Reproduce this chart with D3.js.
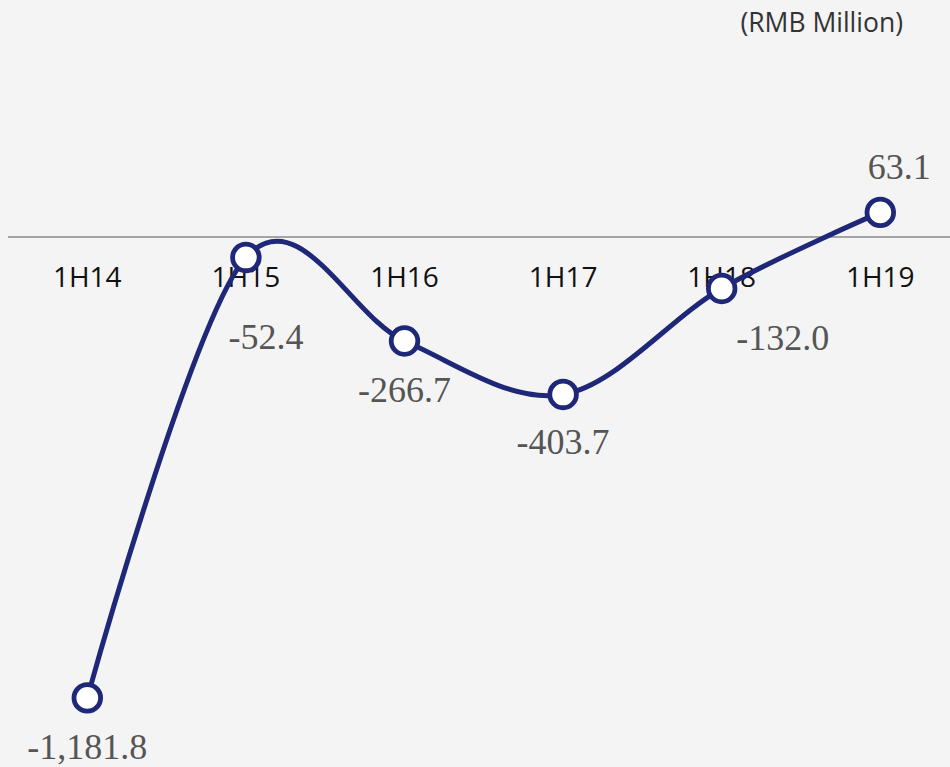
<!DOCTYPE html>
<meta charset="utf-8">
<body style="margin:0;background:#f4f4f4;">
<style>
  .cat { font-family: "Open Sans", "Noto Sans", sans-serif; font-size: 28px; fill: #111; }
  .unit { font-family: "Open Sans", "Noto Sans", sans-serif; font-size: 26.5px; fill: #333; }
  .val { font-family: "Liberation Serif", "DejaVu Serif", serif; font-size: 36px; fill: #555; }
</style>
<svg width="950" height="767"></svg>
<script src="https://d3js.org/d3.v7.min.js"></script>
<script>

var periods = ["1H14", "1H15", "1H16", "1H17", "1H18", "1H19"];
var values = [-1181.8, -52.4, -266.7, -403.7, -132.0, 63.1];
var unitLabel = "(RMB Million)";

// label nudges relative to each marker (dx, dy to baseline)
var labelShift = [[0, 61], [20, 92], [0, 61], [0, 60], [61, 62], [19, -33]];

var svg = d3.select("svg"),
    width = +svg.attr("width"),
    height = +svg.attr("height");

svg.append("rect")
   .attr("width", width)
   .attr("height", height)
   .attr("fill", "#f4f4f4");

var x = d3.scaleBand()
    .domain(periods)
    .range([8, 959.6]);

var y = d3.scaleLinear()
    .domain([-1300, 600])
    .range([744, 3]);

var cx = function(d, i) { return x(periods[i]) + x.bandwidth() / 2; };

// category axis at zero
var xAxis = d3.axisBottom(x).tickSize(0).tickPadding(0);
var ax = svg.append("g")
    .attr("transform", "translate(0," + y(0) + ")")
    .call(xAxis);
ax.select(".domain").remove();
ax.append("line")
    .attr("x1", 8).attr("x2", width)
    .attr("stroke", "#8a8a8a")
    .attr("stroke-width", 1.5);
ax.selectAll(".tick text")
    .attr("class", "cat")
    .attr("fill", null)
    .attr("font-size", null)
    .attr("font-family", null)
    .attr("dy", null)
    .attr("y", 50);

svg.append("text")
   .attr("class", "unit")
   .attr("x", 903)
   .attr("y", 32)
   .attr("text-anchor", "end")
   .text(unitLabel);

var line = d3.line()
    .x(cx)
    .y(function(d) { return y(d); })
    .curve(d3.curveCardinal.tension(0));

svg.append("path")
   .datum(values)
   .attr("d", line)
   .attr("fill", "none")
   .attr("stroke", "#1f2878")
   .attr("stroke-width", 5);

svg.append("g")
   .selectAll("circle")
   .data(values)
   .enter().append("circle")
   .attr("cx", cx)
   .attr("cy", function(d) { return y(d); })
   .attr("r", 13.3)
   .attr("fill", "#ffffff")
   .attr("stroke", "#1f2878")
   .attr("stroke-width", 4.8);

var fmt = d3.format(",.1f");
svg.append("g")
   .selectAll("text")
   .data(values)
   .enter().append("text")
   .attr("class", "val")
   .attr("text-anchor", "middle")
   .attr("x", function(d, i) { return cx(d, i) + labelShift[i][0]; })
   .attr("y", function(d, i) { return y(d) + labelShift[i][1]; })
   .text(function(d) { return fmt(d).replace("−", "-"); });

</script>
</body>
